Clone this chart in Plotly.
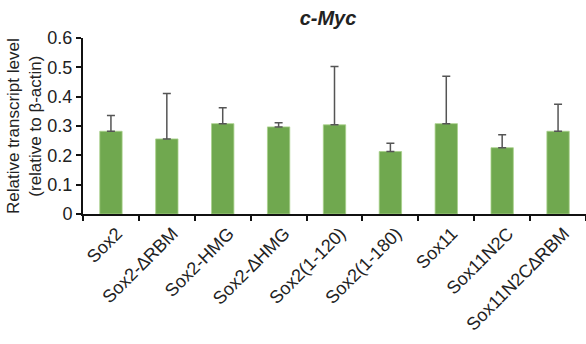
import plotly.graph_objects as go

# Relative c-Myc transcript levels for each construct (mean and upper error)
constructs = ["Sox2", "Sox2-\u2206RBM", "Sox2-HMG", "Sox2-\u2206HMG", "Sox2(1-120)",
              "Sox2(1-180)", "Sox11", "Sox11N2C", "Sox11N2C\u2206RBM"]
means = [0.282, 0.256, 0.308, 0.297, 0.304, 0.213, 0.308, 0.226, 0.282]
errors = [0.054, 0.155, 0.054, 0.014, 0.199, 0.028, 0.162, 0.044, 0.092]
y_ticks = [0, 0.1, 0.2, 0.3, 0.4, 0.5, 0.6]
y_tick_text = ["0", "0.1", "0.2", "0.3", "0.4", "0.5", "0.6"]

FONT = "Liberation Sans, Arial, sans-serif"
TEXT = "#222222"

fig = go.Figure(
    go.Bar(
        x=constructs,
        y=means,
        width=0.4,
        marker=dict(color="#70a84f", line=dict(color="#a8d08a", width=0.8)),
        error_y=dict(
            type="data",
            symmetric=False,
            array=errors,
            arrayminus=[0] * len(errors),
            color="#555555",
            thickness=1.5,
            width=4,
        ),
    )
)

fig.update_layout(
    width=586,
    height=344,
    margin=dict(l=83, r=0, t=38, b=130),
    plot_bgcolor="white",
    paper_bgcolor="white",
    showlegend=False,
    font=dict(family=FONT, size=16, color=TEXT),
    title=dict(
        text="<b><i>c-Myc</i></b>",
        x=328 / 586,
        xanchor="center",
        y=1 - 18 / 344,
        yanchor="middle",
        font=dict(family=FONT, size=20, color=TEXT),
    ),
)

fig.update_xaxes(
    type="category",
    range=[-0.5, len(constructs) - 0.5],
    tickangle=-45,
    tickson="boundaries",
    ticks="outside",
    ticklen=5,
    tickwidth=1.5,
    tickcolor="#111111",
    ticklabelshift=6,
    showline=True,
    linecolor="#111111",
    linewidth=2,
    showgrid=False,
    tickfont=dict(family=FONT, size=18, color=TEXT),
)

fig.update_yaxes(
    range=[0, 0.6],
    tickvals=y_ticks,
    ticktext=y_tick_text,
    ticks="outside",
    ticklen=5,
    tickwidth=1.5,
    tickcolor="#111111",
    showline=True,
    linecolor="#111111",
    linewidth=2,
    showgrid=False,
    zeroline=False,
    tickfont=dict(family=FONT, size=18, color=TEXT),
)

fig.add_annotation(
    text="Relative transcript level<br>(relative to \u03b2-actin)",
    xref="paper",
    yref="paper",
    x=0,
    y=0.5,
    xshift=-59,
    xanchor="center",
    yanchor="middle",
    textangle=-90,
    showarrow=False,
    font=dict(family=FONT, size=17, color=TEXT),
)

fig.write_html("out.html")
